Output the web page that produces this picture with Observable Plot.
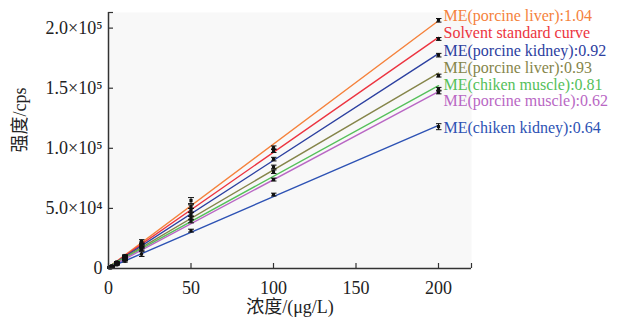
<!DOCTYPE html>
<html>
<head>
<meta charset="utf-8">
<script src="https://cdn.jsdelivr.net/npm/d3@7"></script>
<script src="https://cdn.jsdelivr.net/npm/@observablehq/plot@0.6"></script>
<style>
  html, body { margin: 0; padding: 0; background: white; }
</style>
</head>
<body>
<div id="chart"></div>
<script>
// ---- data ----
const concentrations = [1, 2, 5, 10, 20, 50, 100, 200];

const seriesNames = [
  "ME(porcine liver):1.04",
  "Solvent standard curve",
  "ME(porcine kidney):0.92",
  "ME(porcine liver):0.93",
  "ME(chiken muscle):0.81",
  "ME(porcine muscle):0.62",
  "ME(chiken kidney):0.64"
];
const seriesColors = ["#f5823c", "#ec3440", "#2c40a0", "#85854a", "#55c05a", "#b967c4", "#2d52b4"];

const porcineLiver104   = [1100, 2100, 5400, 10800, 22500, 56500, 100500, 206500];
const solventStandard   = [1000, 1900, 5000, 10200, 20800, 51500,  98000, 191000];
const porcineKidney092  = [ 900, 1800, 4700,  9500, 19500, 48500,  91000, 177500];
const porcineLiver093   = [ 800, 1600, 4200,  8600, 18500, 45000,  84500, 160500];
const chickenMuscle081  = [ 750, 1500, 3900,  8000, 17500, 42000,  80500, 149500];
const porcineMuscle062  = [ 700, 1400, 3700,  7600, 16000, 39500,  74000, 146500];
const chickenKidney064  = [ 600, 1200, 3000,  6000, 12000, 31500,  61500, 118000];

const porcineLiver104Err  = [300, 300, 400, 600, 1500, 2500, 1500, 1500];
const solventStandardErr  = [300, 300, 400, 600, 1200, 1500, 1500, 1200];
const porcineKidney092Err = [300, 300, 400, 600, 1200, 1500, 1500, 1500];
const porcineLiver093Err  = [300, 300, 400, 600, 1200, 1500, 1500, 1200];
const chickenMuscle081Err = [300, 300, 400, 600, 1200, 1500, 1500, 1200];
const porcineMuscle062Err = [300, 300, 400, 600, 1200, 1500, 1200, 1200];
const chickenKidney064Err = [300, 300, 400, 600, 2000, 1200, 1200, 2500];

const xTicks = [0, 50, 100, 150, 200];
const yTicks = [0, 50000, 100000, 150000, 200000];
const yTickLabels = ["0", "5.0×10⁴", "1.0×10⁵", "1.5×10⁵", "2.0×10⁵"];
const xMax = 220, yMax = 213000;

// ---- build table ----
const seriesValues = [porcineLiver104, solventStandard, porcineKidney092, porcineLiver093,
                      chickenMuscle081, porcineMuscle062, chickenKidney064];
const seriesErrors = [porcineLiver104Err, solventStandardErr, porcineKidney092Err, porcineLiver093Err,
                      chickenMuscle081Err, porcineMuscle062Err, chickenKidney064Err];
const rows = seriesNames.flatMap((name, s) =>
  concentrations.map((x, i) => ({series: name, x, y: seriesValues[s][i], e: seriesErrors[s][i]})));

const labelDy = [3, 20, 38, 55, 72, 88, 115];
const lastX = concentrations[concentrations.length - 1];

const serif = "'Liberation Serif', 'Times New Roman', 'Noto Sans CJK SC', serif";

const chart = Plot.plot({
  width: 629,
  height: 320,
  marginLeft: 108,
  marginRight: 158,
  marginTop: 12,
  marginBottom: 52,
  style: {fontFamily: serif, fontSize: "18px", background: "white", color: "#222"},
  x: {domain: [0, xMax]},
  y: {domain: [0, yMax]},
  color: {domain: seriesNames, range: seriesColors},
  marks: [
    Plot.frame({fill: "#f8f8f8", stroke: null}),
    Plot.linearRegressionY(rows, {x: "x", y: "y", z: "series", stroke: "series", ci: 0, strokeWidth: 1.4}),
    Plot.link(rows, {x1: "x", x2: "x", y1: d => d.y - d.e, y2: d => d.y + d.e,
      stroke: "#111", strokeWidth: 1, markerStart: "tick", markerEnd: "tick"}),
    Plot.dot(rows, {x: "x", y: "y", symbol: "square", r: 1.8, fill: "#111", stroke: null}),
    Plot.axisX({ticks: [...xTicks, xMax], tickFormat: d => (xTicks.includes(d) ? String(d) : ""),
      tickSize: -5, tickPadding: 18, stroke: "#333", strokeWidth: 1.2, label: null, fontSize: 18}),
    Plot.axisY({ticks: [...yTicks, yMax], tickFormat: d => { const i = yTicks.indexOf(d); return i >= 0 ? yTickLabels[i] : ""; },
      tickSize: -5, tickPadding: 11, stroke: "#333", strokeWidth: 1.2, label: null, fontSize: 18}),
    Plot.ruleX([0], {stroke: "#333", strokeWidth: 1.5}),
    Plot.ruleY([0], {stroke: "#333", strokeWidth: 1.5}),
    Plot.text(["浓度/(μg/L)"], {frameAnchor: "bottom", dy: 44, fontSize: 18, fill: "#222"}),
    Plot.text(["强度/cps"], {frameAnchor: "left", rotate: -90, dx: -88, dy: 12, fontSize: 18, fill: "#222"}),
    ...seriesNames.map((name, i) => Plot.text([name], {
      x: () => lastX, frameAnchor: "top", dx: 5, dy: labelDy[i],
      textAnchor: "start", lineAnchor: "middle", fill: seriesColors[i], fontSize: 16
    }))
  ]
});
document.getElementById("chart").append(chart);
</script>
</body>
</html>
